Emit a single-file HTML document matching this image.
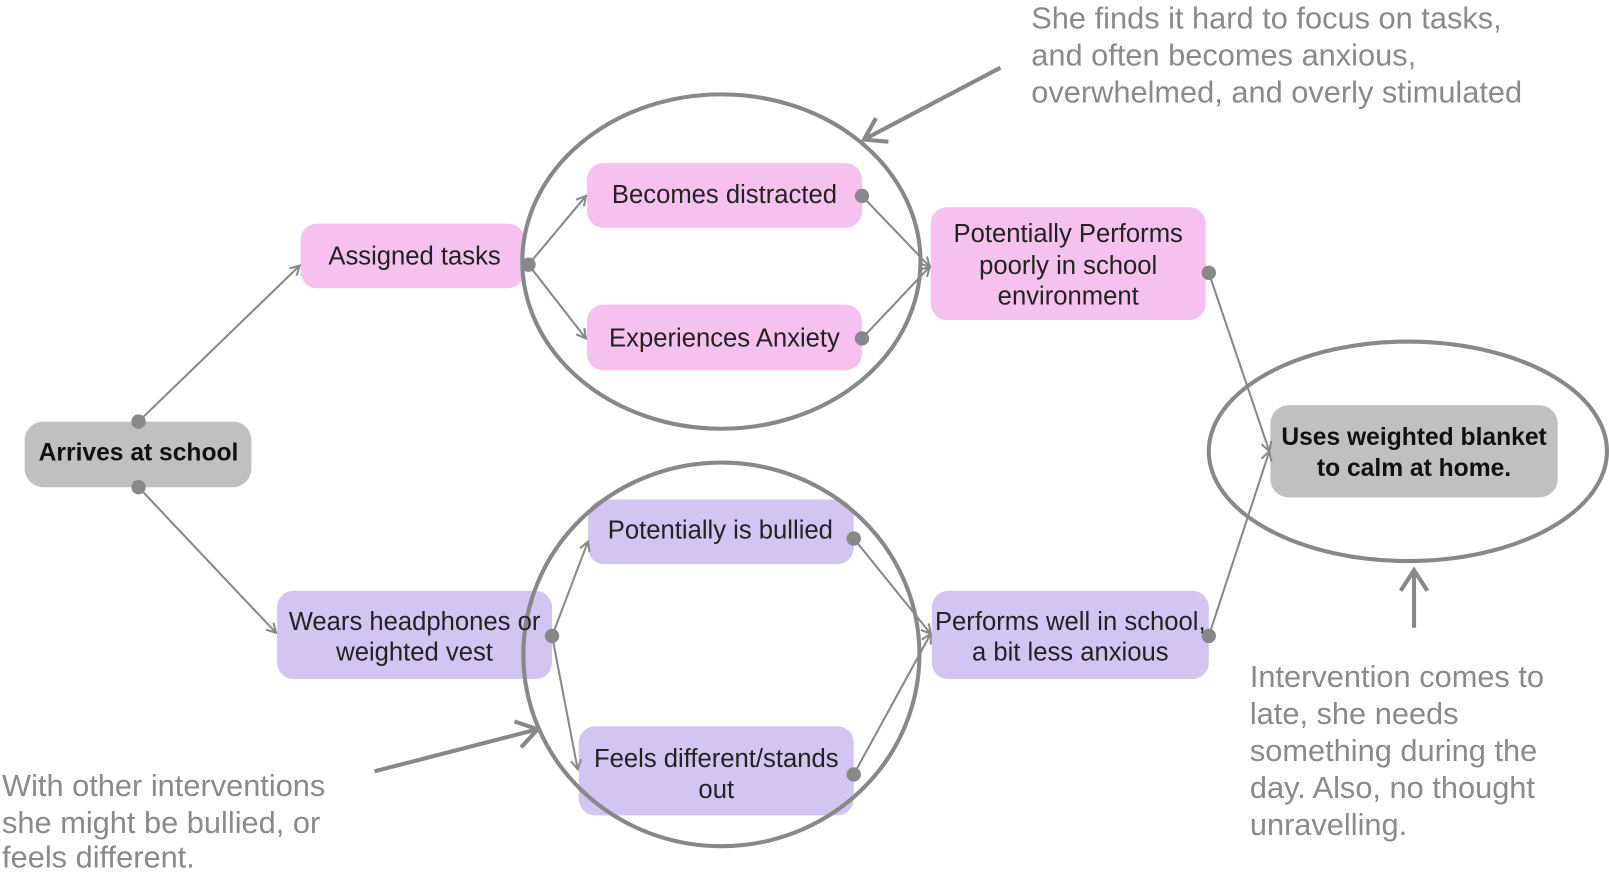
<!DOCTYPE html>
<html><head><meta charset="utf-8"><style>html,body{margin:0;padding:0;background:#fff;overflow:hidden}</style></head>
<body>
<svg width="1609" height="878" viewBox="0 0 1568 856" preserveAspectRatio="none" xmlns="http://www.w3.org/2000/svg" font-family="Liberation Sans, sans-serif">
<defs>
<marker id="a" markerWidth="12" markerHeight="12" refX="10" refY="6" orient="auto" markerUnits="userSpaceOnUse"><path d="M1,1 L10,6 L1,11" fill="none" stroke="#888" stroke-width="2"/></marker>
<marker id="b" markerWidth="30" markerHeight="30" refX="26" refY="15" orient="auto" markerUnits="userSpaceOnUse"><path d="M6,2 L26,15 L6,28" fill="none" stroke="#888" stroke-width="4"/></marker>
</defs>
<g fill="#f6c1ee">
<rect x="293" y="218" width="218" height="63" rx="16"/>
<rect x="572" y="159" width="268" height="63" rx="16"/>
<rect x="572" y="297" width="268" height="64" rx="16"/>
<rect x="907" y="202" width="268" height="110" rx="16"/>
</g>
<g fill="#d2c5f1">
<rect x="573" y="487" width="259" height="63" rx="16"/>
<rect x="270" y="576" width="268" height="86" rx="16"/>
<rect x="564" y="708" width="268" height="87" rx="16"/>
<rect x="908" y="576" width="270" height="86" rx="16"/>
</g>
<g fill="#c0c0c0">
<rect x="24" y="411" width="221" height="64" rx="18"/>
<rect x="1238" y="395" width="280" height="90" rx="18"/>
</g>
<g fill="none" stroke="#888" stroke-width="4">
<ellipse cx="703" cy="255" rx="194" ry="163"/>
<ellipse cx="703" cy="638" rx="193" ry="187"/>
<ellipse cx="1372" cy="440" rx="194" ry="107"/>
</g>
<g stroke="#888" stroke-width="2" marker-end="url(#a)">
<line x1="135" y1="411" x2="292" y2="259"/>
<line x1="135" y1="475" x2="269" y2="617"/>
<line x1="515" y1="258" x2="571" y2="191"/>
<line x1="515" y1="258" x2="571" y2="330"/>
<line x1="840" y1="191" x2="906" y2="260"/>
<line x1="840" y1="330" x2="906" y2="260"/>
<line x1="538" y1="620" x2="573" y2="528"/>
<line x1="538" y1="620" x2="563" y2="750"/>
<line x1="832" y1="525" x2="907" y2="618"/>
<line x1="832" y1="755" x2="907" y2="618"/>
<line x1="1178" y1="266" x2="1237" y2="440"/>
<line x1="1178" y1="620" x2="1237" y2="440"/>
</g>
<g fill="#888">
<circle cx="135" cy="411" r="7"/><circle cx="135" cy="475" r="7"/>
<circle cx="515" cy="258" r="7"/><circle cx="840" cy="191" r="7"/><circle cx="840" cy="330" r="7"/>
<circle cx="538" cy="620" r="7"/><circle cx="832" cy="525" r="7"/><circle cx="832" cy="755" r="7"/>
<circle cx="1178" cy="266" r="7"/><circle cx="1178" cy="620" r="7"/>
</g>
<g stroke="#888" stroke-width="4" marker-end="url(#b)">
<line x1="975" y1="66" x2="842" y2="136"/>
<line x1="365" y1="752" x2="524" y2="711"/>
<line x1="1378" y1="612" x2="1378" y2="556"/>
</g>
<g font-size="25" fill="#222" text-anchor="middle">
<text x="404" y="258">Assigned tasks</text>
<text x="706" y="198">Becomes distracted</text>
<text x="706" y="338">Experiences Anxiety</text>
<text x="1041" y="236">Potentially Performs</text>
<text x="1041" y="267">poorly in school</text>
<text x="1041" y="297">environment</text>
<text x="702" y="525">Potentially is bullied</text>
<text x="404" y="614">Wears headphones or</text>
<text x="404" y="644">weighted vest</text>
<text x="698" y="748">Feels different/stands</text>
<text x="698" y="778">out</text>
<text x="1043" y="614">Performs well in school,</text>
<text x="1043" y="644">a bit less anxious</text>
<text x="135" y="449" font-weight="bold" fill="#111" font-size="24">Arrives at school</text>
<text x="1378" y="434" font-weight="bold" fill="#111" font-size="24">Uses weighted blanket</text>
<text x="1378" y="464" font-weight="bold" fill="#111" font-size="24">to calm at home.</text>
</g>
<g font-size="30" fill="#8a8a8a">
<text x="1005" y="28">She finds it hard to focus on tasks,</text>
<text x="1005" y="64">and often becomes anxious,</text>
<text x="1005" y="100">overwhelmed, and overly stimulated</text>
<text x="2" y="776">With other interventions</text>
<text x="2" y="812">she might be bullied, or</text>
<text x="2" y="846">feels different.</text>
<text x="1218" y="670">Intervention comes to</text>
<text x="1218" y="706">late, she needs</text>
<text x="1218" y="742">something during the</text>
<text x="1218" y="778">day. Also, no thought</text>
<text x="1218" y="814">unravelling.</text>
</g>
</svg>
</body></html>
